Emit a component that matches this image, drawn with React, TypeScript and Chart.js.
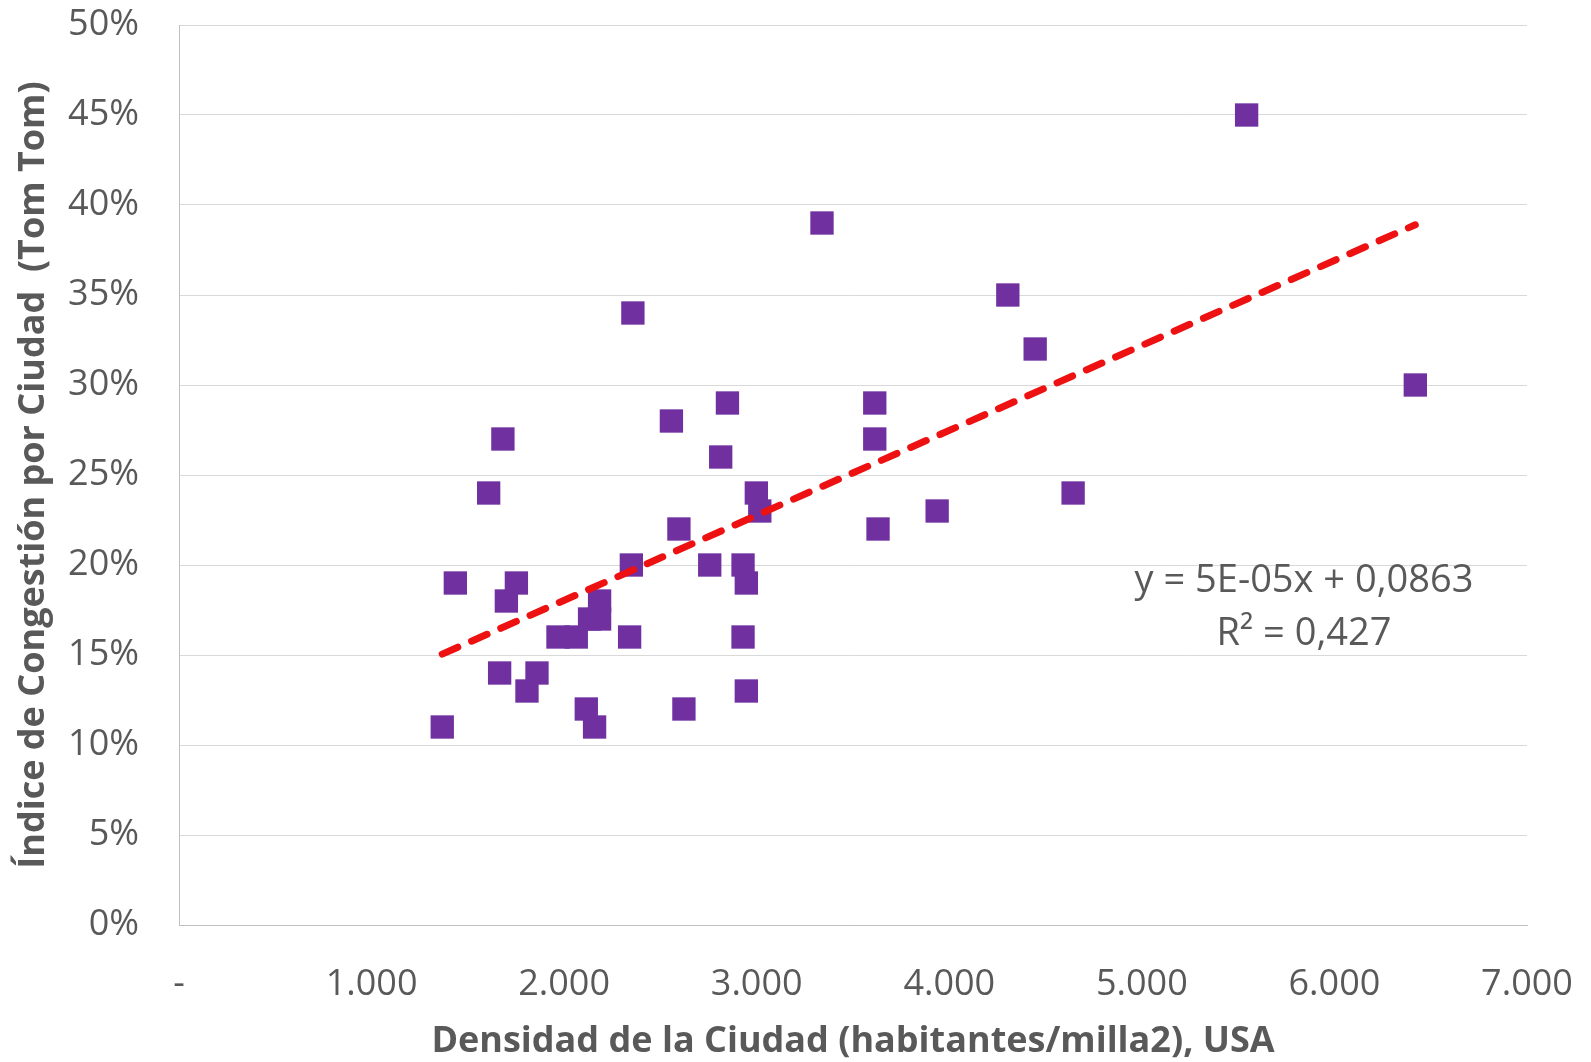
import React, { useEffect, useRef } from "react";
import { Chart, registerables } from "chart.js";

Chart.register(...registerables);

// Density (inhabitants / sq. mile) and congestion index (fraction)
const densityX = [
  1367, 2158, 2115, 2622, 1807, 2946, 1665, 1859, 1968, 2063,
  2340, 2929, 2132, 2184, 2184, 1700, 1435, 1752, 2946, 2349,
  2756, 2929, 2596, 3630, 3016, 3937, 1608, 2998, 4643, 2813,
  1682, 3613, 2557, 2848, 3613, 6420, 4446, 2357, 4304, 3339,
  5544,
];
const congestionY = [
  0.11, 0.11, 0.12, 0.12, 0.13, 0.13, 0.14, 0.14, 0.16, 0.16,
  0.16, 0.16, 0.17, 0.17, 0.18, 0.18, 0.19, 0.19, 0.19, 0.20,
  0.20, 0.20, 0.22, 0.22, 0.23, 0.23, 0.24, 0.24, 0.24, 0.26,
  0.27, 0.27, 0.28, 0.29, 0.29, 0.30, 0.32, 0.34, 0.35, 0.39,
  0.45,
];

// Linear trendline endpoints
const trendX = [1367, 6420];
const trendY = [0.1505, 0.3890];

const equationLines = ["y = 5E-05x + 0,0863", "R² = 0,427"];
const equationAnchorX = [5842, 5842];
const equationAnchorY = [0.191, 0.1617];

const xTitle = "Densidad de la Ciudad (habitantes/milla2), USA";
const yTitle = "Índice de Congestión por Ciudad  (Tom Tom)";

const TEXT = "#595959";
const FONT = '"Open Sans", "Noto Sans", sans-serif';

const fmtX = (v: number) =>
  v === 0 ? "-" : Math.round(v).toString().replace(/\B(?=(\d{3})+(?!\d))/g, ".");
const fmtY = (v: number) => `${Math.round(v * 100)}%`;

const equationPlugin = {
  id: "equationLabel",
  afterDatasetsDraw(chart: any) {
    const { ctx, scales } = chart;
    const xs = scales.x;
    const ys = scales.y;
    ctx.save();
    ctx.font = `38px ${FONT}`;
    ctx.fillStyle = TEXT;
    ctx.textAlign = "center";
    ctx.textBaseline = "middle";
    equationLines.forEach((line, i) => {
      ctx.fillText(
        line,
        xs.getPixelForValue(equationAnchorX[i]),
        ys.getPixelForValue(equationAnchorY[i])
      );
    });
    ctx.restore();
  },
};

const zeroPad = (s: any) => {
  s.paddingTop = 0;
  s.paddingBottom = 0;
  s.paddingLeft = 0;
  s.paddingRight = 0;
};

export default function App() {
  const ref = useRef<HTMLCanvasElement | null>(null);

  useEffect(() => {
    if (!ref.current) return;
    const chart = new Chart(ref.current, {
      type: "scatter",
      data: {
        datasets: [
          {
            type: "line",
            label: "Tendencia",
            data: trendX.map((x, i) => ({ x, y: trendY[i] })),
            borderColor: "#EE1111",
            borderWidth: 7,
            borderDash: [17, 15],
            borderCapStyle: "round",
            pointRadius: 0,
            fill: false,
            order: 0,
          } as any,
          {
            label: "Ciudades",
            data: densityX.map((x, i) => ({ x, y: congestionY[i] })),
            pointStyle: "rect",
            pointRadius: 16.5,
            pointHoverRadius: 16.5,
            pointBackgroundColor: "#7030A0",
            pointBorderWidth: 0,
            borderWidth: 0,
            order: 1,
          },
        ],
      },
      options: {
        animation: false,
        responsive: false,
        events: [],
        layout: { padding: { top: 25, right: 64, left: 0, bottom: 0 } },
        plugins: {
          legend: { display: false },
          tooltip: { enabled: false },
        },
        scales: {
          x: {
            type: "linear",
            position: "bottom",
            min: 0,
            max: 7000,
            grid: { display: false },
            border: { display: true, color: "#BFBFBF", width: 1 },
            ticks: {
              stepSize: 1000,
              callback: (v: any) => fmtX(Number(v)),
              color: TEXT,
              font: { family: FONT, size: 36 },
              padding: 30,
              maxRotation: 0,
            },
            title: {
              display: true,
              text: xTitle,
              color: TEXT,
              font: { family: FONT, size: 36, weight: "bold", lineHeight: 1.0 },
              padding: { top: 0, bottom: 2 },
            },
            afterFit: (s: any) => {
              s.height = 137;
              zeroPad(s);
            },
          },
          y: {
            min: 0,
            max: 0.5,
            grid: { display: true, color: "#D9D9D9", lineWidth: 1, drawTicks: false },
            border: { display: true, color: "#BFBFBF", width: 1 },
            ticks: {
              stepSize: 0.05,
              callback: (v: any) => fmtY(Number(v)),
              color: TEXT,
              font: { family: FONT, size: 36 },
              padding: 40,
            },
            title: {
              display: true,
              text: yTitle,
              color: TEXT,
              font: { family: FONT, size: 36, weight: "bold", lineHeight: 1.2 },
              padding: { top: 12, bottom: 0 },
            },
            afterFit: (s: any) => {
              s.width = 179;
              zeroPad(s);
            },
          },
        },
      },
      plugins: [equationPlugin],
    } as any);
    return () => chart.destroy();
  }, []);

  return (
    <div style={{ position: "fixed", left: 0, top: 0, width: 1591, height: 1062, background: "#fff" }}>
      <canvas ref={ref} width={1591} height={1062} style={{ width: 1591, height: 1062, display: "block" }} />
    </div>
  );
}
